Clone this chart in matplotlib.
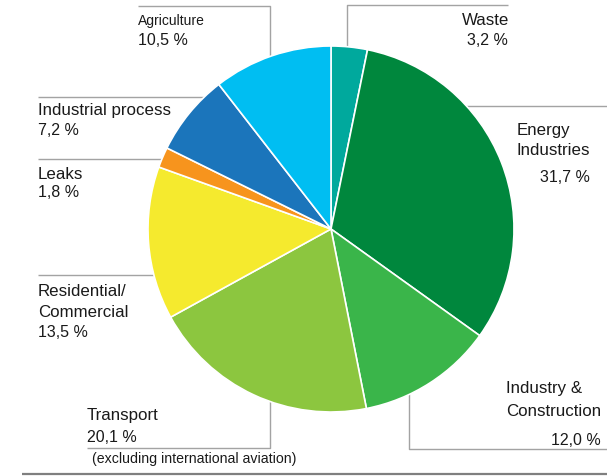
import matplotlib.pyplot as plt

# Greenhouse gas emissions by sector (%)
sectors = ["Waste", "Energy Industries", "Industry & Construction", "Transport",
           "Residential/Commercial", "Leaks", "Industrial process", "Agriculture"]
shares = [3.2, 31.7, 12.0, 20.1, 13.5, 1.8, 7.2, 10.5]
colors = ["#00A99D", "#00873D", "#3AB54A", "#8CC63F",
          "#F5EA2E", "#F7941D", "#1B75BB", "#00BEF2"]

W, H = 607, 476
LINE = "#A3A3A3"
TXT = "#1a1a1a"

plt.rcParams["font.family"] = ["Liberation Sans", "DejaVu Sans"]

fig = plt.figure(figsize=(W / 100, H / 100), dpi=100)
ax = fig.add_axes([0, 0, 1, 1])


# work in pixel coordinates, y measured from the top
def py(y):
    return H - y


def fmt(v):
    return f"{v:.1f} %".replace(".", ",")


ax.pie(shares, colors=colors, startangle=90, counterclock=False,
       center=(331, py(229)), radius=183, frame=True,
       wedgeprops=dict(edgecolor="white", linewidth=1.2, zorder=2))
ax.set_xlim(0, W)
ax.set_ylim(0, H)
ax.set_aspect("auto")
ax.axis("off")


def leader(xs, ys, color=LINE, lw=1.0):
    ax.plot(xs, [py(y) for y in ys], color=color, lw=lw,
            solid_capstyle="butt", zorder=0)


def label(x, y, s, ha="left", size=12.2):
    ax.text(x, py(y), s, ha=ha, va="baseline", fontsize=size, color=TXT)


v = dict(zip(sectors, shares))

# Agriculture
leader([138, 270, 270], [6, 6, 60])
label(138, 25, "Agriculture", size=10)
label(138, 45, fmt(v["Agriculture"]), size=11.5)

# Waste
leader([347, 347, 508], [48, 5, 5])
label(509, 25, "Waste", ha="right")
label(508, 45, fmt(v["Waste"]), ha="right", size=11.5)

# Energy Industries
leader([465, 607], [106, 106])
label(517, 135, "Energy")
label(517, 155, "Industries")
label(590, 182, fmt(v["Energy Industries"]), ha="right", size=11.5)

# Industrial process
leader([38, 205], [97, 97])
label(38, 115, "Industrial process")
label(38, 135, fmt(v["Industrial process"]), size=11.5)

# Leaks
leader([38, 165], [159, 159])
label(38, 179, "Leaks")
label(38, 197, fmt(v["Leaks"]), size=11.5)

# Residential/Commercial
leader([38, 155], [275, 275])
label(38, 296, "Residential/")
label(38, 317, "Commercial")
label(38, 337, fmt(v["Residential/Commercial"]), size=11.5)

# Transport
leader([87, 270, 270], [448, 448, 398])
label(87, 420, "Transport")
label(87, 442, fmt(v["Transport"]), size=11.5)
label(92, 463, "(excluding international aviation)", size=10.2)

# Industry & Construction
leader([409, 409, 607], [390, 449, 449])
label(506, 393, "Industry &")
label(506, 416, "Construction")
label(601, 445, fmt(v["Industry & Construction"]), ha="right", size=11.5)

# bottom rule
leader([22, 607], [474, 474], color="#7F7F7F", lw=1.6)

fig.savefig("out.png", dpi=100)
